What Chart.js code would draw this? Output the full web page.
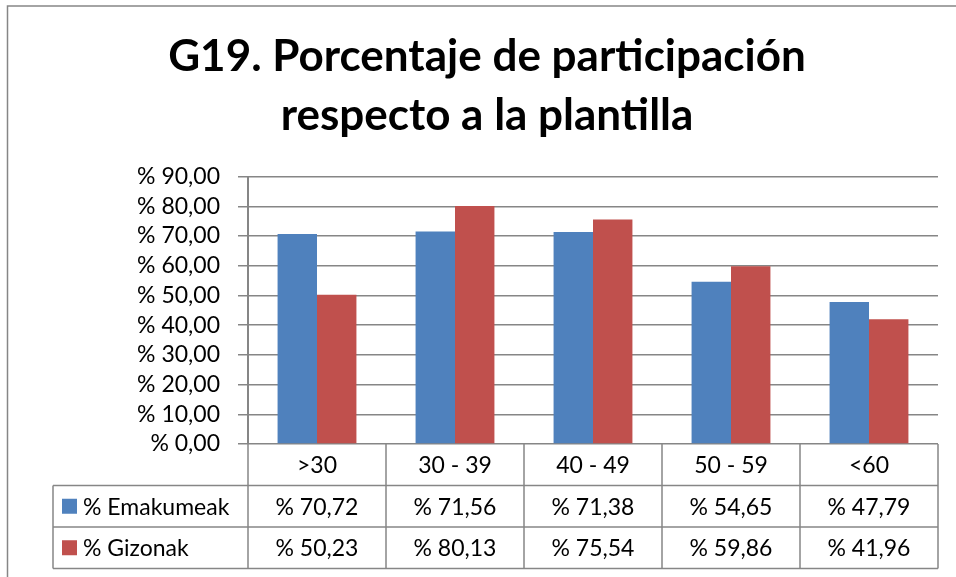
<!DOCTYPE html>
<html>
<head>
<meta charset="utf-8">
<title>G19 chart</title>
<script src="https://cdn.jsdelivr.net/npm/chart.js@4/dist/chart.umd.min.js"></script>
<style>
  html, body { margin: 0; padding: 0; background: #fff; }
  canvas { display: block; }
</style>
</head>
<body>
<canvas id="chart" width="956" height="577"></canvas>
<script>
// ---- data ----
const categories = ['>30', '30 - 39', '40 - 49', '50 - 59', '<60'];
const seriesNames = ['% Emakumeak', '% Gizonak'];
const emakumeak = [70.72, 71.56, 71.38, 54.65, 47.79];
const gizonak = [50.23, 80.13, 75.54, 59.86, 41.96];
const yTicks = [0, 10, 20, 30, 40, 50, 60, 70, 80, 90];
const titleLines = ['G19. Porcentaje de participación', 'respecto a la plantilla'];

const BLUE = '#4F81BD';
const RED = '#C0504D';
const GRID = '#868686';
const FONT = 'Lato, "Open Sans", sans-serif';
const PAD_LEFT = 36;

// "% 70,72" style numbers
function pct(v) {
  return '% ' + v.toFixed(2).replace('.', ',');
}

// ========== data table + outer frame under the plot ==========
const dataTable = {
  id: 'dataTable',
  afterDraw(chart) {
    const ctx = chart.ctx;
    const area = chart.chartArea;
    const x = chart.scales.x;
    const colW = x.getPixelForValue(1) - x.getPixelForValue(0);
    const rowH = 41.5;
    const legendLeft = 53;
    const top = area.bottom;
    const series = [emakumeak, gizonak];
    const colors = [BLUE, RED];

    ctx.save();
    ctx.strokeStyle = GRID;
    ctx.lineWidth = 1.5;

    // horizontal lines
    ctx.beginPath();
    for (let r = 1; r <= 3; r++) {
      const y = top + r * rowH;
      ctx.moveTo(legendLeft, y);
      ctx.lineTo(area.right, y);
    }
    // vertical lines
    for (let c = 0; c <= categories.length; c++) {
      const xx = area.left + c * colW;
      ctx.moveTo(xx, top);
      ctx.lineTo(xx, top + 3 * rowH);
    }
    ctx.moveTo(legendLeft, top + rowH);
    ctx.lineTo(legendLeft, top + 3 * rowH);
    ctx.stroke();

    // text
    ctx.fillStyle = '#000';
    ctx.font = '23px ' + FONT;
    ctx.textBaseline = 'middle';
    ctx.textAlign = 'center';
    categories.forEach((cat, i) => {
      ctx.fillText(cat, x.getPixelForValue(i), top + rowH / 2 + 1);
    });
    series.forEach((vals, s) => {
      const cy = top + (s + 1.5) * rowH + 1;
      vals.forEach((v, i) => {
        ctx.fillText(pct(v), x.getPixelForValue(i), cy);
      });
    });

    // legend keys in first column
    ctx.textAlign = 'left';
    series.forEach((vals, s) => {
      const cy = top + (s + 1.5) * rowH;
      ctx.fillStyle = colors[s];
      ctx.fillRect(62, cy - 7.5, 15, 15);
      ctx.fillStyle = '#000';
      ctx.fillText(seriesNames[s], 83, cy + 1);
    });

    // chart frame (left + top edge visible in the reference)
    ctx.beginPath();
    ctx.moveTo(7.5, chart.height);
    ctx.lineTo(7.5, 6);
    ctx.lineTo(chart.width, 6);
    ctx.stroke();
    ctx.restore();
  }
};

const whiteBg = {
  id: 'whiteBg',
  beforeDraw(chart) {
    const ctx = chart.ctx;
    ctx.save();
    ctx.fillStyle = '#fff';
    ctx.fillRect(0, 0, chart.width, chart.height);
    ctx.restore();
  }
};

new Chart(document.getElementById('chart'), {
  type: 'bar',
  data: {
    labels: categories,
    datasets: [
      { label: seriesNames[0], data: emakumeak, backgroundColor: BLUE },
      { label: seriesNames[1], data: gizonak, backgroundColor: RED }
    ]
  },
  options: {
    responsive: false,
    animation: false,
    categoryPercentage: 2 / 3.5,
    barPercentage: 1,
    layout: { padding: { left: PAD_LEFT, right: 18, top: 0, bottom: 133 } },
    plugins: {
      legend: { display: false },
      tooltip: { enabled: false },
      title: {
        display: true,
        text: titleLines,
        color: '#000',
        font: { family: FONT, size: 44, weight: 'bold', lineHeight: 1.325 },
        padding: { top: 28, bottom: 32 }
      }
    },
    scales: {
      x: {
        display: false
      },
      y: {
        min: 0,
        max: 90,
        afterFit(scale) { scale.width = 248 - PAD_LEFT; },
        afterBuildTicks(scale) { scale.ticks = yTicks.map(v => ({ value: v })); },
        grid: { color: GRID, lineWidth: 1.5, tickLength: 10 },
        border: { color: GRID, width: 2 },
        ticks: {
          autoSkip: false,
          padding: 18,
          color: '#000',
          font: { family: FONT, size: 23 },
          callback: v => pct(v)
        }
      }
    }
  },
  plugins: [whiteBg, dataTable]
});
</script>
</body>
</html>
